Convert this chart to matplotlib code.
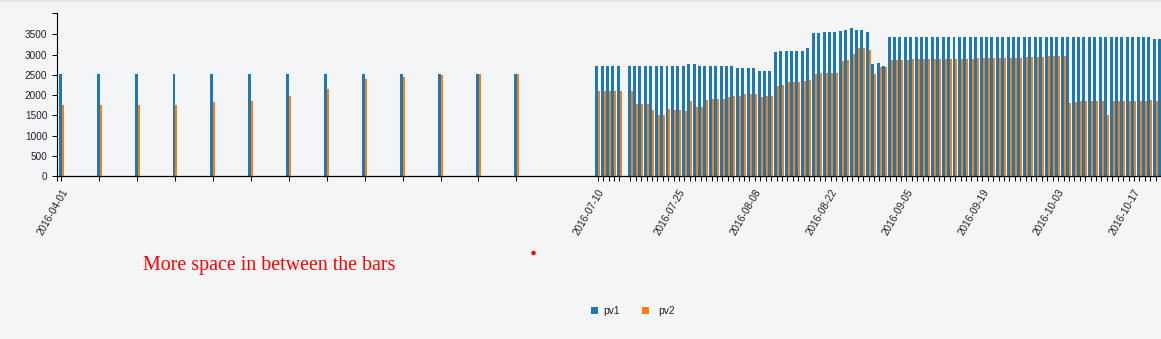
import matplotlib
matplotlib.use("Agg")
import matplotlib.pyplot as plt
import matplotlib.dates as mdates
from matplotlib.patches import Rectangle, Ellipse
from matplotlib.transforms import ScaledTranslation
import pandas as pd

plt.rcParams['font.family'] = ['Liberation Sans', 'DejaVu Sans']

# ---------------- data ----------------
series_names = ['pv1', 'pv2']

# weekly points (stamped late in the day)
left_dates = ["2016-04-01 23:00", "2016-04-08 23:00", "2016-04-15 23:00", "2016-04-22 23:00",
              "2016-04-29 23:00", "2016-05-06 23:00", "2016-05-13 23:00", "2016-05-20 23:00",
              "2016-05-27 23:00", "2016-06-03 23:00", "2016-06-10 23:00", "2016-06-17 23:00",
              "2016-06-24 23:00"]
pv1_left = [2510, 2510, 2510, 2510, 2510, 2510, 2510, 2510, 2510, 2510, 2510, 2510, 2510]
pv2_left = [1750, 1750, 1750, 1750, 1830, 1850, 1980, 2150, 2400, 2450, 2500, 2510, 2510]

# daily from 2016-07-10 to 2016-10-22, 2016-07-15 missing
right_dates = [d.strftime("%Y-%m-%d 00:00") for d in pd.date_range("2016-07-10", "2016-10-22")
               if d.strftime("%Y-%m-%d") != "2016-07-15"]
pv1_right = [
    2720, 2720, 2720, 2720, 2720,
    2720, 2720, 2720, 2720, 2720, 2720, 2720, 2720, 2720, 2720, 2720,
    2770, 2770, 2720, 2720, 2720, 2720, 2720, 2720, 2720,
    2670, 2670, 2670, 2670, 2595, 2595, 2595, 3065,
    3090, 3090, 3090, 3090, 3090, 3160, 3535, 3535, 3560, 3560,
    3560, 3585, 3605, 3655, 3605, 3605, 3560, 2765, 2790, 2720,
    3435, 3435, 3435, 3435, 3435, 3435, 3435, 3435, 3435, 3435,
    3435, 3435, 3435, 3435, 3435, 3435, 3435, 3435, 3435, 3435,
    3435, 3435, 3435, 3435, 3435, 3435, 3435, 3435, 3435, 3435,
    3435, 3435, 3435, 3435, 3435, 3435, 3435, 3435, 3435, 3435,
    3435, 3435, 3435, 3435, 3435, 3435, 3435, 3435, 3435, 3385, 3385,
]
pv2_right = [
    2100, 2100, 2100, 2100, 2100,
    2100, 1780, 1780, 1780, 1630, 1505, 1505, 1655, 1630, 1630, 1605,
    1855, 1705, 1705, 1880, 1900, 1900, 1900, 1950, 1975,
    1975, 2025, 2025, 2025, 1950, 1975, 1975, 2225,
    2250, 2320, 2320, 2320, 2345, 2370, 2520, 2545, 2545, 2545,
    2545, 2840, 2865, 3015, 3160, 3160, 3115, 2520, 2695, 2695,
    2865, 2865, 2865, 2865, 2890, 2890, 2890, 2890, 2890, 2890,
    2890, 2890, 2890, 2890, 2890, 2890, 2915, 2915, 2915, 2915,
    2915, 2915, 2915, 2915, 2915, 2940, 2940, 2940, 2940, 2965,
    2965, 2965, 2965, 1805, 1830, 1855, 1855, 1855, 1855, 1855,
    1505, 1855, 1855, 1855, 1855, 1855, 1855, 1855, 1880, 1855, 1855,
]

labeled_dates = ['2016-04-01', '2016-07-10', '2016-07-25', '2016-08-08', '2016-08-22',
                 '2016-09-05', '2016-09-19', '2016-10-03', '2016-10-17']
y_ticks = [0, 500, 1000, 1500, 2000, 2500, 3000, 3500]

annotation = "More space in between the bars"

# ---------------- layout / style ----------------
W, H = 1161, 339
BG = '#f4f5f7'
BLUE = '#1f77b4'
ORANGE = '#ff7f0e'
TXT = '#222222'
AX_L, AX_TOP, AX_BOT = 57.3, 13.3, 176.0
PX_PER_DAY = 5.42
ANCHOR_DATE, ANCHOR_PX = "2016-07-10", 598.3
Y_TOP = 4020

fig = plt.figure(figsize=(W / 100, H / 100), dpi=100, facecolor=BG)
ax = fig.add_axes([AX_L / W, 1 - AX_BOT / H, (W - AX_L) / W, (AX_BOT - AX_TOP) / H])
ax.set_facecolor(BG)

dates = pd.to_datetime(left_dates + right_dates, format="%Y-%m-%d %H:%M")
xnum = mdates.date2num(dates)
pv1 = pv1_left + pv1_right
pv2 = pv2_left + pv2_right

ax.bar(xnum - 0.5, pv1, width=0.55, align='edge', color=BLUE, linewidth=0, zorder=2)
ax.bar(xnum + 0.05, pv2, width=0.37, align='edge', color=ORANGE, linewidth=0, zorder=3)

anchor = mdates.date2num(pd.Timestamp(ANCHOR_DATE))
x0 = anchor - (ANCHOR_PX - AX_L) / PX_PER_DAY
x1 = anchor + (W - ANCHOR_PX) / PX_PER_DAY
ax.set_xlim(x0, x1)
ax.set_ylim(0, Y_TOP)

labels = [d.strftime("%Y-%m-%d") if d.strftime("%Y-%m-%d") in labeled_dates else ''
          for d in dates]
ax.set_xticks(list(xnum) + [x0])
ax.set_xticklabels(labels + [''])
ax.set_yticks(y_ticks + [Y_TOP])
ax.set_yticklabels([str(v) for v in y_ticks] + [''])

for s in ['top', 'right']:
    ax.spines[s].set_visible(False)
ax.spines['left'].set_linewidth(0.8)
ax.spines['bottom'].set_linewidth(0.9)
ax.spines['left'].set_color('black')
ax.spines['bottom'].set_color('black')

ax.tick_params(axis='x', direction='out', length=3.6, width=0.75, color='black',
               pad=6.5, labelsize=7.2, labelcolor=TXT)
ax.tick_params(axis='y', direction='out', length=3.6, width=0.75, color='black',
               pad=3.6, labelsize=7.2, labelcolor=TXT)

shift = ScaledTranslation(4.0 / 100, 0, fig.dpi_scale_trans)
for lbl in ax.get_xticklabels():
    lbl.set_rotation(60)
    lbl.set_ha('right')
    lbl.set_va('center')
    lbl.set_rotation_mode('anchor')
    lbl.set_transform(lbl.get_transform() + shift)

# top shadow
for i, c in enumerate(['#e3e4e6', '#e9eaec', '#eeeff1', '#f1f2f4']):
    fig.patches.append(Rectangle((0, 1 - (i + 1) / H), 1, 1 / H, transform=fig.transFigure,
                                 facecolor=c, edgecolor='none', zorder=0))

# annotation text and dot
fig.text(143 / W, 1 - 270 / H, annotation, color='red', fontsize=14.4,
         family=['Liberation Serif', 'DejaVu Serif'], va='baseline', ha='left')
fig.patches.append(Ellipse((533.5 / W, 1 - 253 / H), 4.5 / W, 4.5 / H,
                           transform=fig.transFigure, facecolor='red', edgecolor='none'))

# legend
legend_items = [(590.5, BLUE, 603), (642, ORANGE, 658)]
for (sx, col, tx), name in zip(legend_items, series_names):
    fig.patches.append(Rectangle((sx / W, 1 - 314 / H), 7.5 / W, 7.5 / H,
                                 transform=fig.transFigure, facecolor=col, edgecolor='none'))
    fig.text(tx / W, 1 - 314 / H, name, fontsize=7.4, color=TXT, va='baseline', ha='left')

fig.savefig("out.png", dpi=100, facecolor=BG)
